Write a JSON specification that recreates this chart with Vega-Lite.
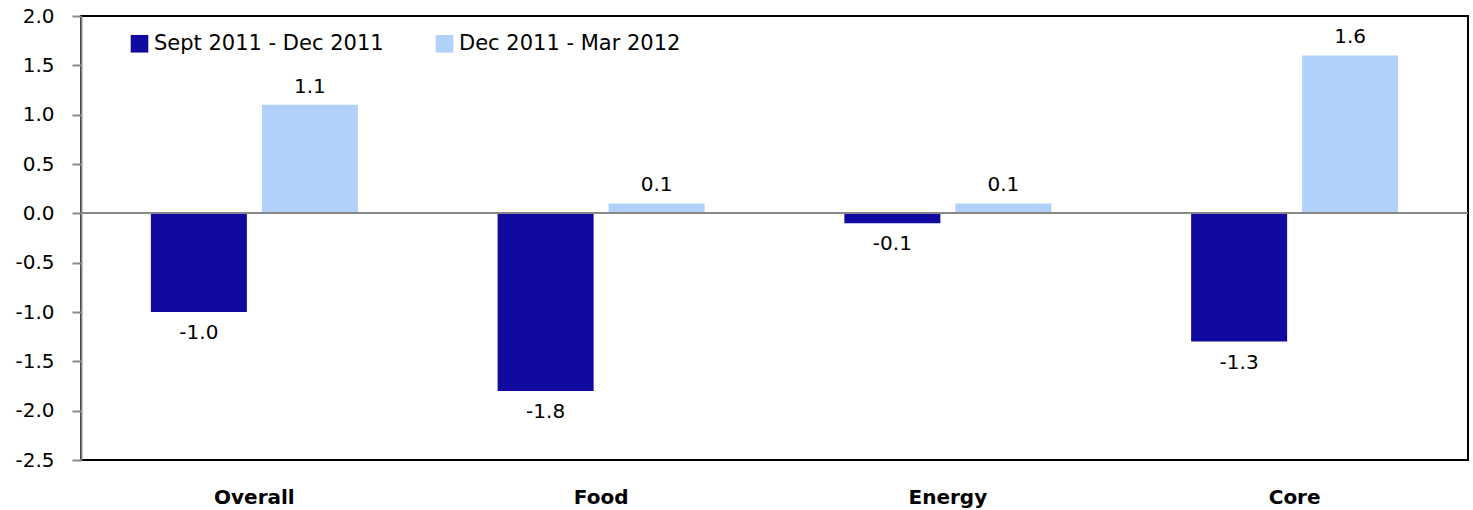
{
  "$schema": "https://vega.github.io/schema/vega-lite/v6.json",
  "width": 1387,
  "height": 444,
  "autosize": {"type": "none"},
  "padding": {"left": 81, "top": 16, "right": 5, "bottom": 50},
  "background": "white",
  "config": {
    "font": "DejaVu Sans",
    "view": {"stroke": "black", "strokeWidth": 2},
    "locale": {
      "number": {"decimal": ".", "thousands": ",", "grouping": [3], "currency": ["$", ""], "minus": "-"}
    }
  },
  "data": {
    "values": [
      {"category": "Overall", "period": "Sept 2011 - Dec 2011", "value": -1.0},
      {"category": "Overall", "period": "Dec 2011 - Mar 2012", "value": 1.1},
      {"category": "Food", "period": "Sept 2011 - Dec 2011", "value": -1.8},
      {"category": "Food", "period": "Dec 2011 - Mar 2012", "value": 0.1},
      {"category": "Energy", "period": "Sept 2011 - Dec 2011", "value": -0.1},
      {"category": "Energy", "period": "Dec 2011 - Mar 2012", "value": 0.1},
      {"category": "Core", "period": "Sept 2011 - Dec 2011", "value": -1.3},
      {"category": "Core", "period": "Dec 2011 - Mar 2012", "value": 1.6}
    ]
  },
  "encoding": {
    "x": {
      "field": "category",
      "type": "nominal",
      "sort": ["Overall", "Food", "Energy", "Core"],
      "scale": {"paddingInner": 0.403, "paddingOuter": 0.2015},
      "axis": {
        "title": null,
        "labelAngle": 0,
        "domain": false,
        "ticks": false,
        "labelFont": "DejaVu Sans",
        "labelFontWeight": "bold",
        "labelFontSize": 20,
        "labelColor": "black",
        "labelPadding": 27
      }
    },
    "xOffset": {
      "field": "period",
      "type": "nominal",
      "sort": ["Sept 2011 - Dec 2011", "Dec 2011 - Mar 2012"],
      "scale": {"paddingInner": 0.135, "paddingOuter": 0}
    },
    "y": {
      "field": "value",
      "type": "quantitative",
      "scale": {"domain": [-2.5, 2.0], "nice": false, "zero": false},
      "axis": {
        "title": null,
        "values": [-2.5, -2.0, -1.5, -1.0, -0.5, 0.0, 0.5, 1.0, 1.5, 2.0],
        "format": ".1f",
        "grid": false,
        "domainColor": "#888888",
        "domainWidth": 2,
        "tickColor": "#888888",
        "tickWidth": 2,
        "tickSize": 9,
        "labelFont": "DejaVu Sans",
        "labelFontSize": 20,
        "labelColor": "black",
        "labelPadding": 18
      }
    }
  },
  "layer": [
    {
      "mark": {"type": "bar"},
      "encoding": {
        "color": {
          "field": "period",
          "type": "nominal",
          "sort": ["Sept 2011 - Dec 2011", "Dec 2011 - Mar 2012"],
          "scale": {
            "domain": ["Sept 2011 - Dec 2011", "Dec 2011 - Mar 2012"],
            "range": ["#110AA0", "#B1D1FB"]
          },
          "legend": {
            "title": null,
            "orient": "none",
            "legendX": 48,
            "legendY": 17,
            "direction": "horizontal",
            "columns": 2,
            "symbolType": "square",
            "symbolSize": 310,
            "symbolStrokeWidth": 0,
            "labelFont": "DejaVu Sans",
            "labelFontSize": 21,
            "labelColor": "black",
            "labelLimit": 400,
            "labelOffset": 4,
            "columnPadding": 50
          }
        }
      }
    },
    {
      "mark": {"type": "rule", "color": "#888888", "strokeWidth": 1.5},
      "encoding": {
        "y": {"datum": 0},
        "x": null,
        "xOffset": null
      }
    },
    {
      "transform": [{"filter": "datum.value >= 0"}],
      "mark": {"type": "text", "baseline": "middle", "dy": -18, "fontSize": 20, "font": "DejaVu Sans", "color": "black"},
      "encoding": {"text": {"field": "value", "type": "quantitative", "format": ".1f"}}
    },
    {
      "transform": [{"filter": "datum.value < 0"}],
      "mark": {"type": "text", "baseline": "middle", "dy": 21, "fontSize": 20, "font": "DejaVu Sans", "color": "black"},
      "encoding": {"text": {"field": "value", "type": "quantitative", "format": ".1f"}}
    }
  ]
}
